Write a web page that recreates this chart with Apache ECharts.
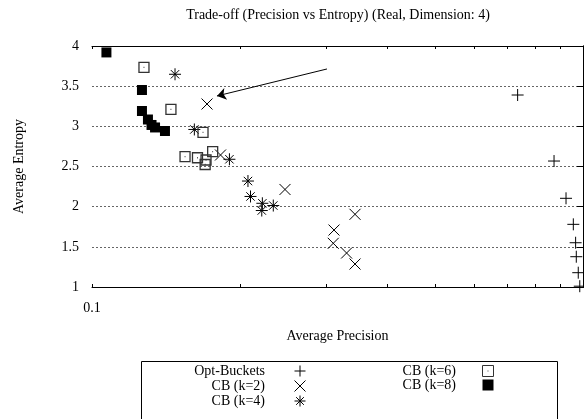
<!DOCTYPE html>
<html>
<head>
<meta charset="utf-8">
<script src="https://cdn.jsdelivr.net/npm/echarts@6/dist/echarts.min.js"></script>
<style>
  html, body { margin: 0; padding: 0; background: #fff; }
  #chart { width: 584px; height: 419px; }
</style>
</head>
<body>
<div id="chart"></div>
<script>
// Average precision (x) vs average entropy (y) per method
const optBuckets = [[0.736, 3.39], [0.873, 2.568], [0.9235, 2.104], [0.9556, 1.78], [0.966, 1.551], [0.969, 1.377], [0.978, 1.178], [0.985, 1.01]];
const cbK2 = [[0.1715, 3.278], [0.1827, 2.643], [0.2472, 2.214], [0.3111, 1.709], [0.310, 1.544], [0.330, 1.423], [0.3433, 1.905], [0.3433, 1.286]];
const cbK4 = [[0.1476, 3.648], [0.1616, 2.961], [0.1905, 2.59], [0.2078, 2.319], [0.2103, 2.127], [0.2223, 2.042], [0.2217, 1.952], [0.234, 2.014]];
const cbK6 = [[0.1276, 3.735], [0.1448, 3.21], [0.1683, 2.926], [0.1547, 2.624], [0.164, 2.609], [0.1707, 2.581], [0.170, 2.525], [0.1761, 2.684]];
const cbK8 = [[0.107, 3.92], [0.1264, 3.452], [0.1264, 3.191], [0.130, 3.085], [0.1322, 3.017], [0.1344, 2.986], [0.1408, 2.942]];

const seriesNames = ['Opt-Buckets', 'CB (k=2)', 'CB (k=4)', 'CB (k=6)', 'CB (k=8)'];

// log-axis tick positions and the labels that are printed
const precisionTicks = [0.1, 0.2, 0.3, 0.4, 0.5, 0.6, 0.7, 0.8, 0.9, 1];
const precisionLabels = [0.1];
const entropyTicks = [1, 1.5, 2, 2.5, 3, 3.5, 4];

// annotation arrow (data coordinates)
const arrowFrom = [0.301, 3.714];
const arrowTo = [0.1797, 3.378];

const FONT = 'Liberation Serif';

const SYM_PLUS = 'path://M0,5 L10,5 M5,0 L5,10';
const SYM_CROSS = 'path://M0,0 L10,10 M0,10 L10,0';
const SYM_STAR = 'path://M0,5 L10,5 M5,0 L5,10 M1.5,1.5 L8.5,8.5 M1.5,8.5 L8.5,1.5';
const SYM_BOXDOT = 'path://M0,0 L10,0 L10,10 L0,10 Z M4.6,5 L5.4,5';
const SYM_BOX = 'path://M0,0 L10,0 L10,10 L0,10 Z';

const strokeStyle = { color: 'none', borderColor: '#000', borderWidth: 1, opacity: 1 };

function scatter(name, data, symbol, size, itemStyle, extra) {
  return Object.assign({
    name: name,
    type: 'scatter',
    data: data,
    symbol: symbol,
    symbolSize: size,
    itemStyle: itemStyle,
    clip: false,
    emphasis: { disabled: true }
  }, extra || {});
}

const chart = echarts.init(document.getElementById('chart'), null, { renderer: 'canvas' });

// The log scale carries the data; the tick marks at 0.2 ... 0.9 are laid out
// on companion linear axes running over log10(precision).
const logTickPos = precisionTicks.map(function (v) { return Math.log10(v); });

function tickOnlyAxis(position) {
  return {
    type: 'value',
    position: position,
    min: -1,
    max: 0,
    axisLine: { show: false },
    splitLine: { show: false },
    axisLabel: { show: false },
    axisTick: { show: true, inside: true, length: 3, customValues: logTickPos, lineStyle: { color: '#000' } }
  };
}

function legendColumn(names, right, itemWidth) {
  return {
    data: names,
    orient: 'vertical',
    align: 'right',
    right: right,
    top: 363,
    padding: 0,
    itemWidth: itemWidth,
    itemHeight: 11,
    itemGap: -1,
    selectedMode: false,
    itemStyle: { borderWidth: 1, opacity: 1 },
    textStyle: { fontFamily: FONT, fontSize: 14, color: '#000' }
  };
}

chart.setOption({
  animation: false,
  backgroundColor: '#fff',
  title: {
    text: 'Trade-off (Precision vs Entropy) (Real, Dimension: 4)',
    left: 338,
    top: 8,
    padding: 0,
    textAlign: 'center',
    textStyle: { fontFamily: FONT, fontSize: 14, fontWeight: 'normal', color: '#000' }
  },
  grid: { left: 92, right: 1, top: 46, bottom: 132, containLabel: false },
  xAxis: [
    {
      type: 'log',
      logBase: 10,
      min: 0.1,
      max: 1,
      position: 'bottom',
      name: 'Average Precision',
      nameLocation: 'middle',
      nameGap: 42,
      nameTextStyle: { fontFamily: FONT, fontSize: 14, color: '#000' },
      axisLine: { show: true, lineStyle: { color: '#000', width: 1 } },
      axisTick: { show: false },
      splitLine: { show: false },
      axisLabel: {
        show: true,
        customValues: precisionLabels,
        margin: 14,
        fontFamily: FONT, fontSize: 14, color: '#000',
        formatter: function (v) { return String(v); }
      }
    },
    {
      type: 'log',
      logBase: 10,
      min: 0.1,
      max: 1,
      position: 'top',
      axisLine: { show: true, lineStyle: { color: '#000', width: 1 } },
      axisTick: { show: false },
      splitLine: { show: false },
      axisLabel: { show: false }
    },
    tickOnlyAxis('bottom'),
    tickOnlyAxis('top')
  ],
  yAxis: [
    {
      type: 'value',
      position: 'left',
      min: 1, max: 4, interval: 0.5,
      name: 'Average Entropy',
      nameLocation: 'middle',
      nameGap: 66,
      nameTextStyle: { fontFamily: FONT, fontSize: 14, color: '#000' },
      axisLine: { show: true, lineStyle: { color: '#000', width: 1 } },
      axisTick: { show: true, inside: true, length: 6, lineStyle: { color: '#000' } },
      axisLabel: { margin: 13, fontFamily: FONT, fontSize: 14, color: '#000', customValues: entropyTicks },
      splitLine: { show: true, lineStyle: { color: '#666', width: 1, type: [2, 2] } }
    },
    {
      type: 'value',
      position: 'right',
      min: 1, max: 4, interval: 0.5,
      axisLine: { show: true, lineStyle: { color: '#000', width: 1 } },
      axisTick: { show: true, inside: true, length: 6, lineStyle: { color: '#000' } },
      axisLabel: { show: false },
      splitLine: { show: false }
    }
  ],
  legend: [
    legendColumn(seriesNames.slice(0, 3), 276, 60),
    legendColumn(seriesNames.slice(3), 88, 54)
  ],
  graphic: [
    {
      type: 'rect',
      z: -1,
      shape: { x: 141.5, y: 361.5, width: 416, height: 80 },
      style: { fill: 'none', stroke: '#000', lineWidth: 1 }
    }
  ],
  series: [
    scatter(seriesNames[0], optBuckets, SYM_PLUS, 12, strokeStyle),
    scatter(seriesNames[1], cbK2, SYM_CROSS, 11, strokeStyle, {
      markLine: {
        silent: true,
        symbol: ['none', 'arrow'],
        symbolSize: 9,
        label: { show: false },
        lineStyle: { color: '#000', width: 1, type: 'solid' },
        itemStyle: { color: '#000' },
        data: [[{ coord: arrowFrom }, { coord: arrowTo }]]
      }
    }),
    scatter(seriesNames[2], cbK4, SYM_STAR, 12, strokeStyle),
    scatter(seriesNames[3], cbK6, SYM_BOXDOT, 10, { color: 'none', borderColor: '#333', borderWidth: 1.3, opacity: 1 }),
    scatter(seriesNames[4], cbK8, SYM_BOX, 10, { color: '#000', opacity: 1 })
  ]
});
</script>
</body>
</html>
